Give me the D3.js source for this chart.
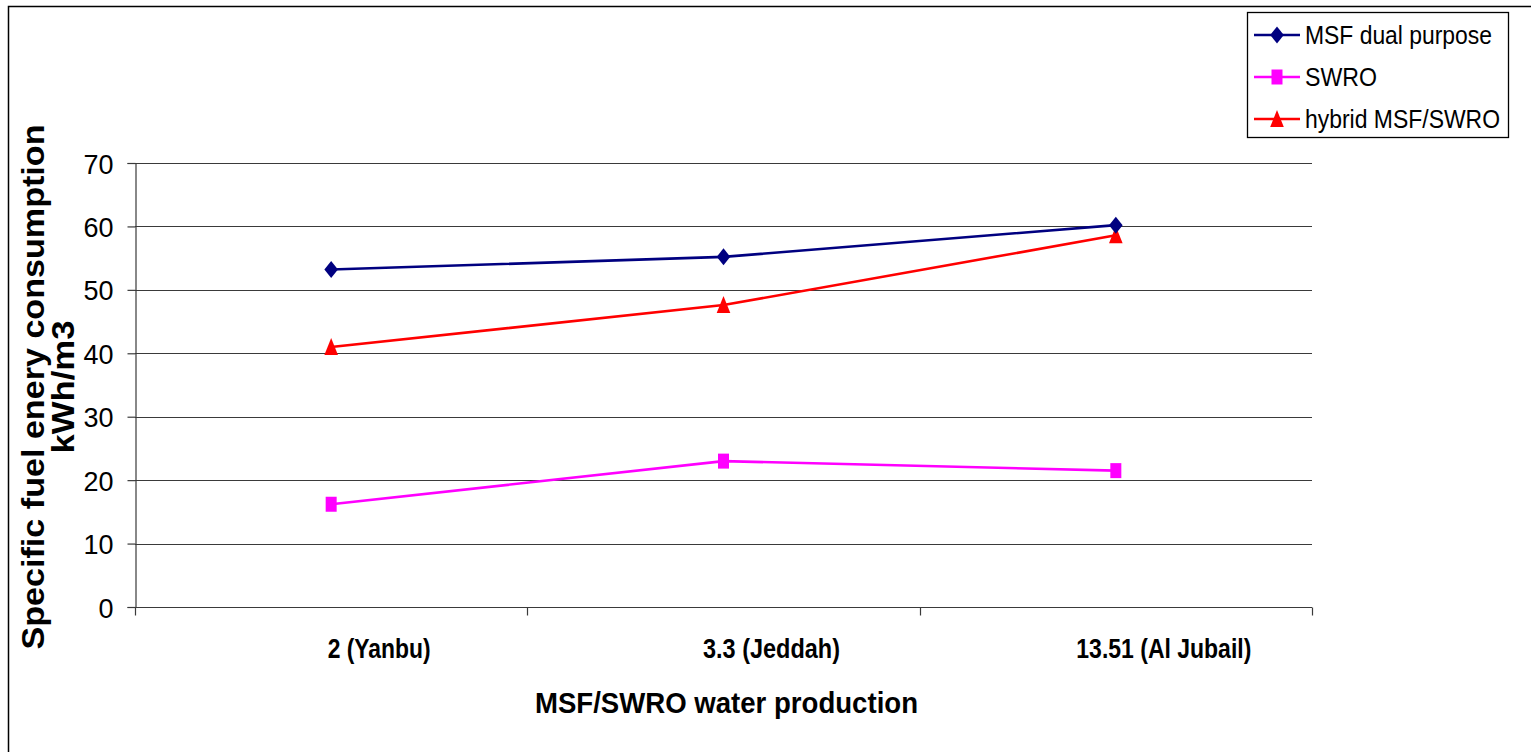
<!DOCTYPE html>
<html>
<head>
<meta charset="utf-8">
<script src="https://cdn.jsdelivr.net/npm/d3@7"></script>
<style>
  html, body { margin: 0; padding: 0; background: #fff; }
  svg { display: block; }
  text { font-family: "Liberation Sans", Arial, sans-serif; fill: #000; }
</style>
</head>
<body>
<svg id="chart" width="1531" height="752"></svg>
<script>
// Plant locations (water production in MIGD)
const categories = ["2 (Yanbu)", "3.3 (Jeddah)", "13.51 (Al Jubail)"];

// Specific fuel energy consumption, kWh/m3
const msfDual = [53.2, 55.2, 60.2];
const swro = [16.2, 23.0, 21.5];
const hybrid = [41.0, 47.6, 58.6];

const yTicks = [0, 10, 20, 30, 40, 50, 60, 70];

const seriesNames = ["MSF dual purpose", "SWRO", "hybrid MSF/SWRO"];
const seriesColors = ["#000080", "#FF00FF", "#FF0000"];
const seriesShapes = ["diamond", "square", "triangle"];
const seriesValues = [msfDual, swro, hybrid];

const svg = d3.select("#chart");

// outer chart frame
svg.append("rect")
  .attr("x", 8.5).attr("y", 6.5)
  .attr("width", 1540).attr("height", 760)
  .attr("fill", "none").attr("stroke", "#000").attr("stroke-width", 1.5);

const plot = { left: 135, right: 1312, top: 163, bottom: 607 };

const x = d3.scalePoint().domain(categories).range([plot.left, plot.right]).padding(0.5);
const y = d3.scaleLinear().domain([0, 70]).range([plot.bottom, plot.top]);

// horizontal gridlines
svg.append("g")
  .selectAll("line")
  .data(yTicks.filter(d => d > 0))
  .join("line")
  .attr("x1", plot.left).attr("x2", plot.right)
  .attr("y1", d => Math.round(y(d)) + 0.5).attr("y2", d => Math.round(y(d)) + 0.5)
  .attr("stroke", "#3a3a3a").attr("stroke-width", 1.2);

// y axis
const yAxis = svg.append("g")
  .attr("transform", `translate(${plot.left + 0.5},0)`)
  .call(d3.axisLeft(y).tickValues(yTicks).tickSize(8).tickPadding(14).tickFormat(d3.format("d")));
yAxis.select(".domain").attr("stroke", "#3a3a3a").attr("stroke-width", 1.2);
yAxis.selectAll(".tick line").attr("stroke", "#3a3a3a").attr("stroke-width", 1.2);
yAxis.selectAll(".tick text")
  .attr("font-size", 28).attr("font-family", "Liberation Sans, Arial, sans-serif")
  .attr("fill", "#000").attr("dy", "0.36em")
  .attr("textLength", 30).attr("lengthAdjust", "spacingAndGlyphs");
yAxis.selectAll(".tick text").filter(d => d === 0).attr("textLength", 15);

// x axis: baseline with category separator ticks
const xAxisG = svg.append("g");
const yBase = Math.round(y(0)) + 0.5;
xAxisG.append("line")
  .attr("x1", plot.left).attr("x2", plot.right)
  .attr("y1", yBase).attr("y2", yBase)
  .attr("stroke", "#3a3a3a").attr("stroke-width", 1.2);
const step = x.step();
const boundaries = d3.range(categories.length + 1).map(i => plot.left + i * step);
xAxisG.selectAll("line.sep")
  .data(boundaries)
  .join("line")
  .attr("class", "sep")
  .attr("x1", d => Math.round(d) + 0.5).attr("x2", d => Math.round(d) + 0.5)
  .attr("y1", yBase).attr("y2", yBase + 8)
  .attr("stroke", "#3a3a3a").attr("stroke-width", 1.2);

// category labels
const labelWidths = [103, 137, 175];
xAxisG.selectAll("text.cat")
  .data(categories)
  .join("text")
  .attr("class", "cat")
  .attr("x", d => x(d) + 48)
  .attr("y", 658)
  .attr("text-anchor", "middle")
  .attr("font-size", 27.5).attr("font-weight", "bold")
  .attr("textLength", (d, i) => labelWidths[i])
  .attr("lengthAdjust", "spacingAndGlyphs")
  .text(d => d);

// axis titles
svg.append("text")
  .attr("x", 726.5).attr("y", 713)
  .attr("text-anchor", "middle")
  .attr("font-size", 29).attr("font-weight", "bold")
  .attr("textLength", 383).attr("lengthAdjust", "spacingAndGlyphs")
  .text("MSF/SWRO water production");

const yTitle = svg.append("g").attr("transform", "translate(0,387) rotate(-90)");
yTitle.append("text")
  .attr("x", 0).attr("y", 44)
  .attr("text-anchor", "middle")
  .attr("font-size", 31).attr("font-weight", "bold")
  .attr("textLength", 525).attr("lengthAdjust", "spacingAndGlyphs")
  .text("Specific fuel enery consumption");
yTitle.append("text")
  .attr("x", 0).attr("y", 74)
  .attr("text-anchor", "middle")
  .attr("font-size", 31).attr("font-weight", "bold")
  .attr("textLength", 133).attr("lengthAdjust", "spacingAndGlyphs")
  .text("kWh/m3");

// marker shapes
function markerPath(shape) {
  if (shape === "diamond") return "M0,-8.5L6.8,0L0,8.5L-6.8,0Z";
  if (shape === "square") return "M-5.5,-7.5H5.5V7.5H-5.5Z";
  return "M0,-9L6.8,8L-6.8,8Z";
}

const line = d3.line().x((d, i) => x(categories[i])).y(d => y(d));

// draw series: SWRO, hybrid, then MSF on top
[1, 2, 0].forEach(si => {
  const g = svg.append("g");
  g.append("path")
    .datum(seriesValues[si])
    .attr("d", line)
    .attr("fill", "none")
    .attr("stroke", seriesColors[si])
    .attr("stroke-width", 2.6);
  g.selectAll("path.mk")
    .data(seriesValues[si])
    .join("path")
    .attr("class", "mk")
    .attr("transform", (d, i) => `translate(${x(categories[i])},${y(d)})`)
    .attr("d", markerPath(seriesShapes[si]))
    .attr("fill", seriesColors[si]);
});

// legend
const legend = svg.append("g");
legend.append("rect")
  .attr("x", 1247.5).attr("y", 12.5)
  .attr("width", 261).attr("height", 125)
  .attr("fill", "#fff").attr("stroke", "#000").attr("stroke-width", 1.3);
const legendY = [35, 77, 119];
const legendWidths = [187, 72, 195];
seriesNames.forEach((name, i) => {
  const ly = legendY[i];
  legend.append("line")
    .attr("x1", 1254).attr("x2", 1300)
    .attr("y1", ly).attr("y2", ly)
    .attr("stroke", seriesColors[i]).attr("stroke-width", 2.6);
  legend.append("path")
    .attr("transform", `translate(1277,${ly})`)
    .attr("d", markerPath(seriesShapes[i]))
    .attr("fill", seriesColors[i]);
  legend.append("text")
    .attr("x", 1305).attr("y", ly + 9)
    .attr("font-size", 25.5)
    .attr("textLength", legendWidths[i]).attr("lengthAdjust", "spacingAndGlyphs")
    .text(name);
});
</script>
</body>
</html>
